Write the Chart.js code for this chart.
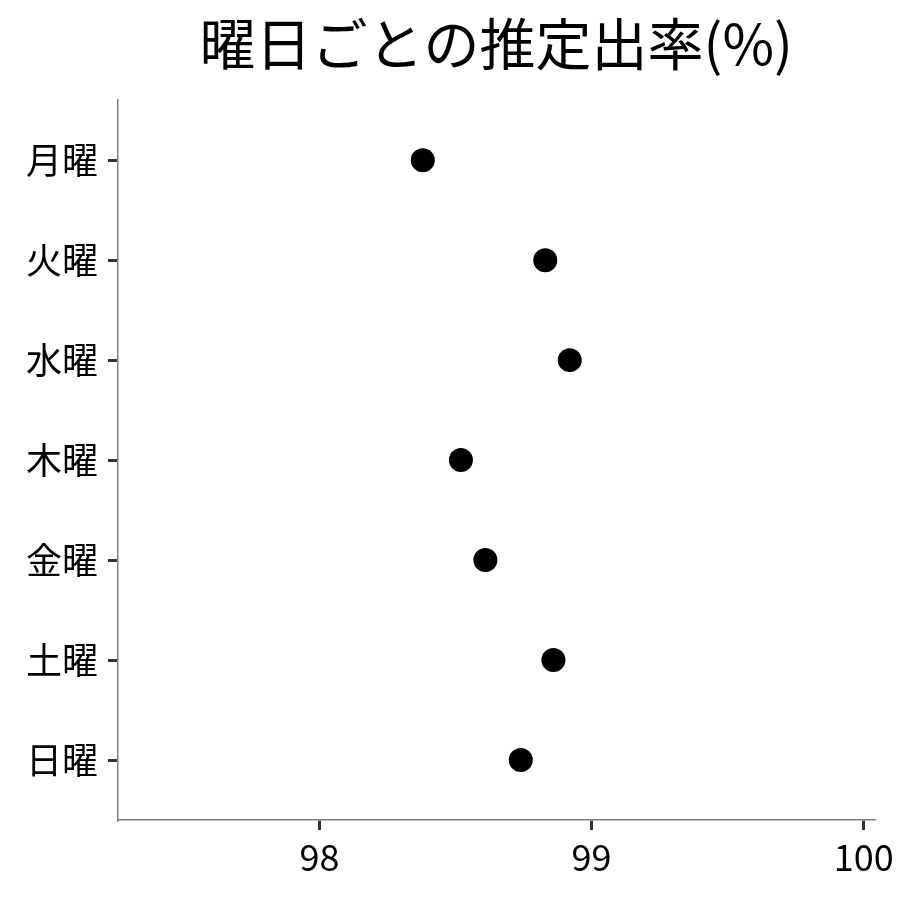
<!DOCTYPE html>
<html>
<head>
<meta charset="utf-8">
<script src="https://cdn.jsdelivr.net/npm/chart.js@4.4.1/dist/chart.umd.min.js"></script>
<style>
  body { margin: 0; background: #fff; }
</style>
</head>
<body>
<canvas id="chart" width="900" height="900"></canvas>
<script>
const days = ["月曜", "火曜", "水曜", "木曜", "金曜", "土曜", "日曜"];
const rates = [98.38, 98.83, 98.92, 98.52, 98.61, 98.86, 98.74];
const xTicks = [98, 99, 100];

const FONT = "'Noto Sans CJK JP', 'Noto Sans', sans-serif";

const points = days.map((d, i) => ({ x: rates[i], y: i }));

const ctx = document.getElementById("chart").getContext("2d");
new Chart(ctx, {
  type: "scatter",
  data: {
    datasets: [
      {
        data: points,
        backgroundColor: "#000",
        borderWidth: 0,
        pointRadius: 12,
        pointHoverRadius: 12,
      },
    ],
  },
  options: {
    responsive: false,
    animation: false,
    devicePixelRatio: 1,
    layout: { padding: { left: 0, right: 24, top: 0, bottom: 0 } },
    plugins: {
      legend: { display: false },
      tooltip: { enabled: false },
      title: {
        display: true,
        text: "曜日ごとの推定出率(%)",
        fullSize: false,
        color: "#000",
        font: { family: FONT, size: 56, weight: "normal", lineHeight: 1.2 },
        padding: { top: 10, bottom: 23 },
      },
    },
    scales: {
      x: {
        type: "linear",
        min: 97.26,
        max: 100.04,
        afterBuildTicks: (scale) => {
          scale.ticks = xTicks.map((v) => ({ value: v }));
        },
        afterFit: (scale) => {
          scale.height = 80;
        },
        ticks: {
          color: "#000",
          padding: 6,
          font: { family: FONT, size: 36 },
        },
        grid: {
          drawOnChartArea: false,
          color: "#333",
          lineWidth: 3,
          tickLength: 10,
          tickColor: "#333",
          tickWidth: 3,
        },
        border: { color: "#808080", width: 1.5 },
      },
      y: {
        type: "linear",
        reverse: true,
        min: -0.6,
        max: days.length - 0.4,
        afterBuildTicks: (scale) => {
          scale.ticks = days.map((d, i) => ({ value: i }));
        },
        afterFit: (scale) => {
          scale.width = 118;
        },
        ticks: {
          color: "#000",
          padding: 10,
          font: { family: FONT, size: 36 },
          callback: (value) => days[value],
        },
        grid: {
          drawOnChartArea: false,
          color: "#333",
          lineWidth: 3,
          tickLength: 10,
          tickColor: "#333",
          tickWidth: 3,
        },
        border: { color: "#808080", width: 1.5 },
      },
    },
  },
});
</script>
</body>
</html>
